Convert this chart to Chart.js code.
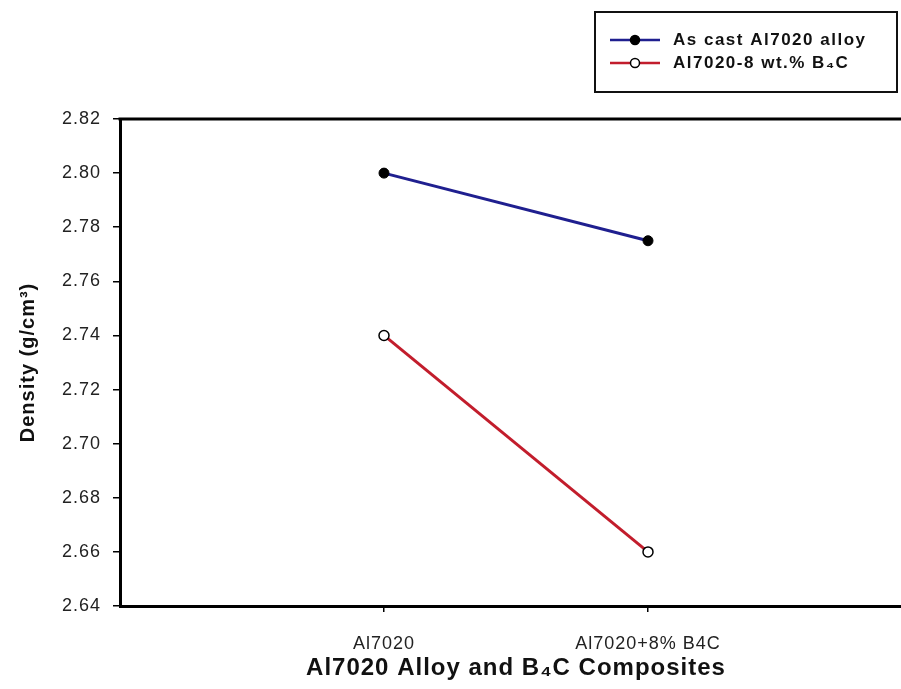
<!DOCTYPE html>
<html>
<head>
<meta charset="utf-8">
<script src="https://cdn.jsdelivr.net/npm/chart.js@4.4.1/dist/chart.umd.min.js"></script>
<style>
html,body{margin:0;padding:0;background:#fff;overflow:hidden;width:901px;height:689px;}
#wrap{width:930px;height:689px;}
</style>
</head>
<body>
<div id="wrap"><canvas id="c" width="930" height="689"></canvas></div>
<script>
const categories = ['Al7020', 'Al7020+8% B4C'];
const seriesNames = ['As cast Al7020 alloy', 'Al7020-8 wt.% B\u2084C'];
const asCastValues = [2.800, 2.775];
const compositeValues = [2.740, 2.660];
const yMin = 2.64, yMax = 2.82, yStep = 0.02;
const xTitle = 'Al7020 Alloy and B\u2084C Composites';
const yTitle = 'Density (g/cm\u00B3)';

const FONT = "'Liberation Sans', Arial, 'DejaVu Sans', sans-serif";

function pts(vals){ return vals.map((v,i)=>({x:i+1, y:v})); }

const spacingPlugin = {
  id:'spacing',
  beforeUpdate(chart){ chart.ctx.letterSpacing = '1px'; },
  beforeLayout(chart){ chart.ctx.letterSpacing = '1px'; },
  beforeDraw(chart){ chart.ctx.letterSpacing = '1px'; }
};

const framePlugin = {
  id:'frame',
  afterDraw(chart){
    const ctx = chart.ctx, a = chart.chartArea;
    ctx.save();
    ctx.strokeStyle = '#000';
    ctx.lineWidth = 3;
    ctx.beginPath();
    ctx.moveTo(a.left - 1.5, a.top);
    ctx.lineTo(chart.width, a.top);
    ctx.stroke();
    ctx.restore();
  }
};

const legendPlugin = {
  id:'boxLegend',
  afterDraw(chart){
    const ctx = chart.ctx;
    ctx.save();
    ctx.letterSpacing = '1.5px';
    ctx.fillStyle = '#fff';
    ctx.fillRect(595, 12, 302, 80);
    ctx.strokeStyle = '#111';
    ctx.lineWidth = 2;
    ctx.strokeRect(595, 12, 302, 80);
    const rows = [40, 63];
    chart.data.datasets.forEach((ds, i) => {
      const y = rows[i];
      ctx.strokeStyle = ds.borderColor;
      ctx.lineWidth = 2.5;
      ctx.beginPath(); ctx.moveTo(610, y); ctx.lineTo(660, y); ctx.stroke();
      ctx.beginPath(); ctx.arc(635, y, 4.5, 0, Math.PI*2);
      ctx.fillStyle = ds.pointBackgroundColor; ctx.fill();
      ctx.strokeStyle = ds.pointBorderColor; ctx.lineWidth = 1.5; ctx.stroke();
      ctx.fillStyle = '#111';
      ctx.font = 'bold 17px ' + FONT;
      ctx.textAlign = 'left';
      ctx.textBaseline = 'middle';
      ctx.fillText(ds.label, 673, y);
    });
    ctx.restore();
  }
};

new Chart(document.getElementById('c'), {
  type:'line',
  data:{
    datasets:[
      {
        label: seriesNames[0],
        data: pts(asCastValues),
        borderColor:'#1f1f8f',
        borderWidth:3,
        pointRadius:5,
        pointBackgroundColor:'#000',
        pointBorderColor:'#000',
        pointBorderWidth:1,
        tension:0
      },
      {
        label: seriesNames[1],
        data: pts(compositeValues),
        borderColor:'#c21d2c',
        borderWidth:3,
        pointRadius:5,
        pointBackgroundColor:'#fff',
        pointBorderColor:'#000',
        pointBorderWidth:1.5,
        tension:0
      }
    ]
  },
  options:{
    responsive:false,
    animation:false,
    devicePixelRatio:1,
    layout:{padding:{top:119, left:0, right:18, bottom:0}},
    plugins:{legend:{display:false}, tooltip:{enabled:false}, title:{display:false}},
    scales:{
      x:{
        type:'linear', min:0, max:3,
        afterFit(s){ s.height = 83; },
        afterBuildTicks(s){ s.ticks = categories.map((c,i)=>({value:i+1})); },
        ticks:{
          callback:(v)=>categories[v-1] ?? '',
          color:'#222', font:{family:FONT, size:18}, padding:21, maxRotation:0, autoSkip:false
        },
        grid:{display:true, drawOnChartArea:false, drawTicks:true, tickLength:6, color:'#000', lineWidth:1.5},
        border:{display:true, color:'#000', width:3},
        title:{display:true, text:xTitle, color:'#111', font:{family:FONT, size:24, weight:'bold'}, padding:{top:0, bottom:6}}
      },
      y:{
        min:yMin, max:yMax,
        afterFit(s){ s.width = 120; },
        ticks:{
          stepSize:yStep,
          callback:(v)=>Number(v).toFixed(2),
          color:'#222', font:{family:FONT, size:18}, padding:12
        },
        grid:{display:true, drawOnChartArea:false, drawTicks:true, tickLength:7, color:'#000', lineWidth:1.5},
        border:{display:true, color:'#000', width:3},
        title:{display:true, text:yTitle, color:'#111', font:{family:FONT, size:20, weight:'bold'}, padding:{top:16, bottom:0}}
      }
    }
  },
  plugins:[spacingPlugin, framePlugin, legendPlugin]
});
</script>
</body>
</html>
